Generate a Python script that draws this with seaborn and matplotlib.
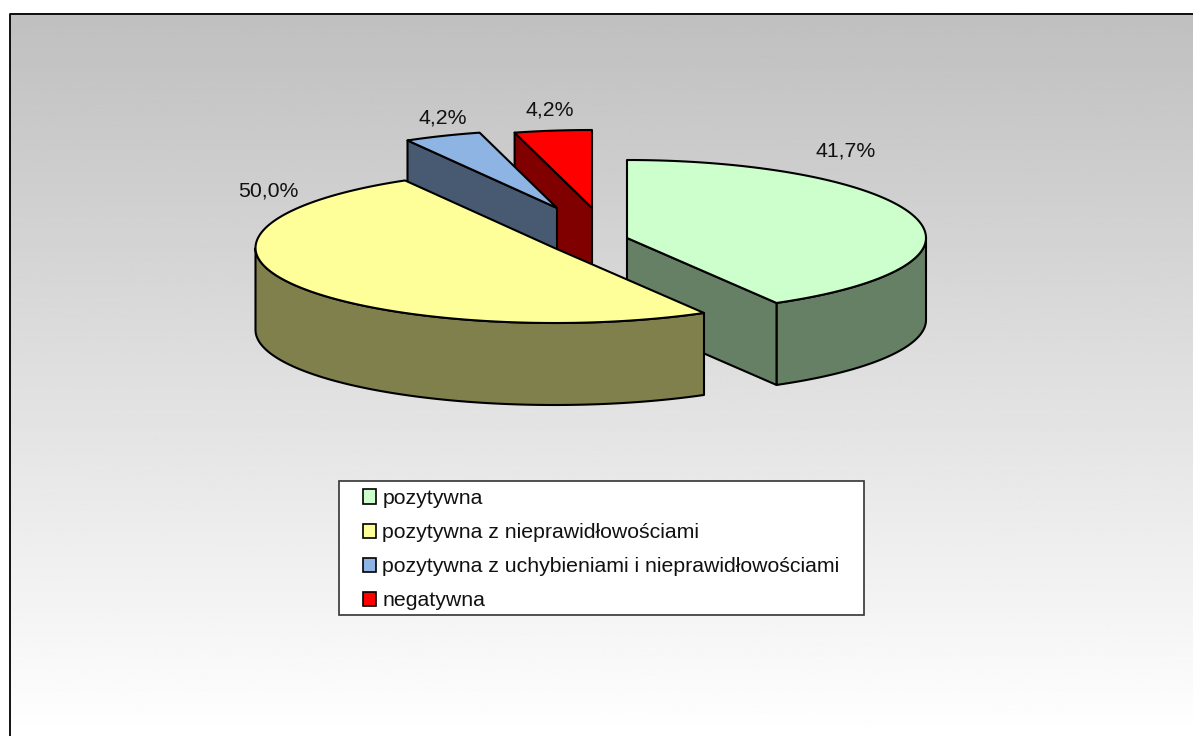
import matplotlib
matplotlib.use("Agg")
import matplotlib.pyplot as plt
import numpy as np
import seaborn as sns
from matplotlib.patches import Patch, Rectangle

# counts per opinion, the picture shows their shares
categories = [
    "pozytywna",
    "pozytywna z nieprawidłowościami",
    "pozytywna z uchybieniami i nieprawidłowościami",
    "negatywna",
]
values = [10, 12, 1, 1]
top_colors = ["#CCFFCC", "#FFFF99", "#8DB4E3", "#FF0000"]

# layout of the exploded pie, in figure pixels
apexes = [(627, 238), (554.5, 248), (557, 208), (592, 208)]
label_positions = [(846, 151), (268, 191), (443, 118), (550, 110)]
draw_order = [3, 2, 0, 1]
RADIUS_X = 299
RADIUS_BACK = 78
RADIUS_FRONT = 75
DEPTH = 82
FONT_SIZE = 15.3

sns.set_theme(style="white")
plt.rcParams["font.family"] = ["Liberation Sans", "DejaVu Sans"]

W, H = 1193, 736


def rim(apex, angle):
    # angle in degrees, clockwise from 12 o'clock
    rad = np.radians(angle)
    cos = np.cos(rad)
    radius_y = np.where(cos > 0, RADIUS_BACK, RADIUS_FRONT)
    return apex[0] + RADIUS_X * np.sin(rad), apex[1] - radius_y * cos


def draw_slice(ax, apex, start, end, color):
    dark = tuple(c * 0.5 for c in color)
    style = dict(edgecolor="black", linewidth=1.5, joinstyle="round")

    # outer wall, only the part facing the viewer
    wall_start, wall_end = max(start, 90), min(end, 270)
    if wall_start < wall_end:
        angles = np.linspace(wall_start, wall_end, 80)
        xs, ys = rim(apex, angles)
        ax.fill(
            np.r_[xs, xs[::-1]],
            np.r_[ys, ys[::-1] + DEPTH],
            facecolor=dark,
            **style,
        )

    # cut faces
    for angle, facing in [(start, -np.sin(np.radians(start))), (end, np.sin(np.radians(end)))]:
        if facing > 1e-6:
            x, y = rim(apex, angle)
            ax.fill(
                [apex[0], x, x, apex[0]],
                [apex[1], y, y + DEPTH, apex[1] + DEPTH],
                facecolor=dark,
                **style,
            )

    angles = np.linspace(start, end, 120)
    xs, ys = rim(apex, angles)
    ax.fill(np.r_[apex[0], xs], np.r_[apex[1], ys], facecolor=color, **style)


fig = plt.figure(figsize=(W / 100, H / 100), dpi=100)
ax = fig.add_axes([0, 0, 1, 1])
ax.set_xlim(0, W)
ax.set_ylim(H, 0)
ax.axis("off")

# background gradient, grey at the top to white at the bottom
gradient = np.linspace(0.75, 1.0, 256).reshape(-1, 1)
ax.imshow(
    gradient,
    cmap="gray",
    vmin=0,
    vmax=1,
    extent=(9.5, W, H, 13.5),
    aspect="auto",
    zorder=0,
)
ax.set_xlim(0, W)
ax.set_ylim(H, 0)
ax.plot([9.5, 9.5, W], [H, 13.5, 13.5], color="black", linewidth=1.3, zorder=1)

palette = sns.color_palette(top_colors)
shares = np.array(values) / sum(values)
edges = np.r_[0, np.cumsum(shares)] * 360

for i in draw_order:
    draw_slice(ax, apexes[i], edges[i], edges[i + 1], palette[i])

for share, (x, y) in zip(shares, label_positions):
    ax.text(
        x,
        y,
        f"{share * 100:.1f}%".replace(".", ","),
        ha="center",
        va="center",
        fontsize=FONT_SIZE,
        color="#111111",
    )

# legend box is drawn on its own, its padding differs per side
ax.add_patch(
    Rectangle((338.5, 480.5), 525, 134, facecolor="white", edgecolor="#333333", linewidth=1.2, zorder=4)
)
handles = [
    Patch(facecolor=c, edgecolor="black", linewidth=1.2, label=name)
    for c, name in zip(palette, categories)
]
legend = ax.legend(
    handles=handles,
    loc="upper left",
    bbox_to_anchor=(362.5 / W, 1 - 489 / H),
    bbox_transform=fig.transFigure,
    frameon=False,
    fontsize=FONT_SIZE,
    handlelength=0.65,
    handleheight=0.65,
    handletextpad=0.28,
    labelspacing=0.71,
    borderpad=0,
    borderaxespad=0,
    labelcolor="#111111",
)
legend.set_zorder(5)

fig.savefig("out.png", dpi=100)
plt.close(fig)
